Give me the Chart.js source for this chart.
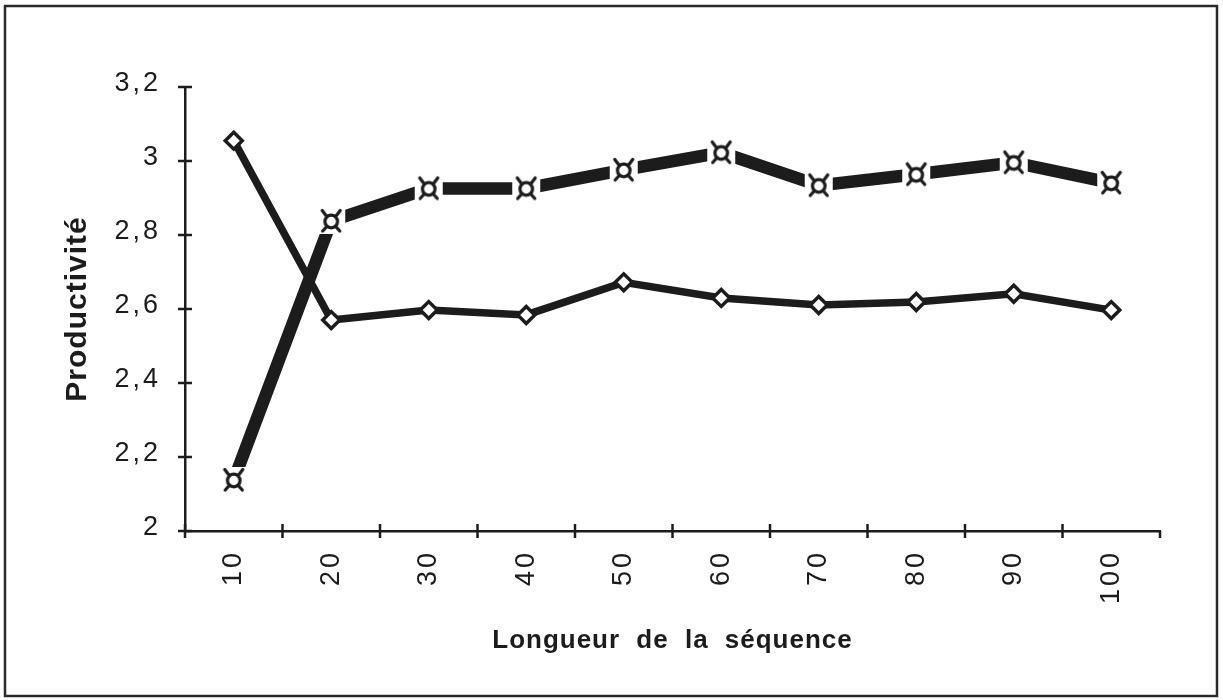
<!DOCTYPE html>
<html>
<head>
<meta charset="utf-8">
<script src="https://cdn.jsdelivr.net/npm/chart.js@4/dist/chart.umd.min.js"></script>
<style>
  html, body { margin: 0; padding: 0; background: #fff; }
  #wrap { width: 1223px; height: 700px; position: relative; }
</style>
</head>
<body>
<div id="wrap"><canvas id="prod-chart"></canvas></div>
<script>
const categories = ["10", "20", "30", "40", "50", "60", "70", "80", "90", "100"];
const diamondSeries = [3.055, 2.57, 2.597, 2.584, 2.672, 2.63, 2.611, 2.619, 2.641, 2.597];
const currencySeries = [2.138, 2.838, 2.926, 2.926, 2.976, 3.023, 2.934, 2.964, 2.996, 2.941];
const yTicks = [2, 2.2, 2.4, 2.6, 2.8, 3, 3.2];

const ink = "#1c1c1c";
const fontFamily = "'Liberation Sans', Arial, Helvetica, sans-serif";

// marker that looks like the ¤ sign, on a white patch that cuts the line
function currencyMarker() {
  const c = document.createElement("canvas");
  c.width = 30;
  c.height = 28;
  const g = c.getContext("2d");
  g.fillStyle = "#fff";
  g.fillRect(1, 1, 28, 26);
  g.strokeStyle = ink;
  g.lineWidth = 3.2;
  g.lineCap = "round";
  g.beginPath();
  g.arc(15, 14.5, 6.3, 0, Math.PI * 2);
  g.stroke();
  g.beginPath();
  // horns on top, feet at bottom
  g.moveTo(10.5, 9.5); g.lineTo(6, 3.5);
  g.moveTo(19.5, 9.5); g.lineTo(24, 3.5);
  g.moveTo(10.5, 19.5); g.lineTo(6.5, 24);
  g.moveTo(19.5, 19.5); g.lineTo(23.5, 24);
  g.stroke();
  return c;
}

const axisTicks = {
  id: "axisTicks",
  beforeDraw(chart) {
    chart.ctx.letterSpacing = "1px";
    chart.ctx.wordSpacing = "8px";
  },
  afterDatasetsDraw(chart) {
    // tick labels are drawn after this (ticks.z = 1)
    chart.ctx.letterSpacing = "3px";
    chart.ctx.wordSpacing = "0px";
  },
  afterDraw(chart) {
    const { ctx, scales: { x, y } } = chart;
    ctx.letterSpacing = "0px";
    ctx.save();
    ctx.strokeStyle = ink;
    ctx.lineWidth = 2.5;
    ctx.beginPath();
    y.ticks.forEach(t => {
      const py = y.getPixelForValue(t.value);
      ctx.moveTo(x.left - 7, py);
      ctx.lineTo(x.left + 7, py);
    });
    for (let i = 0; i <= categories.length; i++) {
      const px = x.getPixelForValue(i - 0.5);
      ctx.moveTo(px, y.bottom - (i === categories.length ? 0 : 7));
      ctx.lineTo(px, y.bottom + 7);
    }
    ctx.stroke();
    // outer frame
    ctx.strokeStyle = "#2a2a2a";
    ctx.lineWidth = 2.5;
    ctx.strokeRect(5, 6, 1212, 690);
    ctx.restore();
  }
};

new Chart(document.getElementById("prod-chart"), {
  type: "line",
  data: {
    labels: categories,
    datasets: [
      {
        label: "série 1",
        data: diamondSeries,
        borderColor: ink,
        borderWidth: 7.5,
        pointStyle: "rectRot",
        pointRadius: 8.5,
        pointBackgroundColor: "#fff",
        pointBorderColor: ink,
        pointBorderWidth: 3.5,
        tension: 0,
      },
      {
        label: "série 2",
        data: currencySeries,
        borderColor: ink,
        borderWidth: 12.5,
        pointStyle: currencyMarker(),
        pointRadius: 13,
        tension: 0,
      },
    ],
  },
  options: {
    responsive: true,
    maintainAspectRatio: false,
    animation: false,
    events: [],
    layout: { padding: { left: 0, top: 87, right: 63, bottom: 0 } },
    plugins: {
      legend: { display: false },
      tooltip: { enabled: false },
    },
    scales: {
      x: {
        offset: true,
        grid: { display: false, drawTicks: false, offset: true },
        border: { display: true, color: ink, width: 2.5 },
        ticks: {
          minRotation: 90,
          maxRotation: 90,
          autoSkip: false,
          padding: 19,
          color: ink,
          z: 1,
          font: { family: fontFamily, size: 27 },
        },
        title: {
          display: true,
          text: "Longueur de la séquence",
          color: ink,
          font: { family: fontFamily, size: 26, weight: "bold" },
          padding: { top: 0, bottom: 44 },
        },
        afterFit(scale) { scale.height = 169; },
      },
      y: {
        min: 2,
        max: 3.2,
        afterBuildTicks(scale) { scale.ticks = yTicks.map(v => ({ value: v })); },
        grid: { display: false, drawTicks: false },
        border: { display: true, color: ink, width: 2.5 },
        ticks: {
          padding: 24,
          labelOffset: -3,
          color: ink,
          z: 1,
          font: { family: fontFamily, size: 27 },
          callback: v => String(Number(v.toFixed(1))).replace(".", ","),
        },
        title: {
          display: true,
          text: "Productivité",
          color: ink,
          font: { family: fontFamily, size: 30, weight: "bold" },
          padding: { top: 60, bottom: 0 },
        },
        afterFit(scale) { scale.width = 185; },
      },
    },
  },
  plugins: [axisTicks],
});
</script>
</body>
</html>
